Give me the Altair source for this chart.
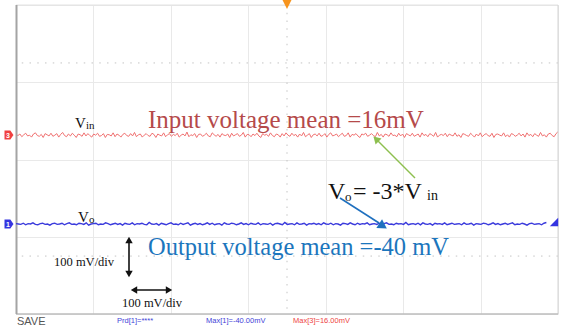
import altair as alt
import numpy as np
import pandas as pd

# Screen layout: 14 horizontal x 8 vertical divisions, 100 mV/div
h_divs = 14
v_divs = 8
mv_per_div = 100

# Channel 3 (input) and channel 1 (output): measured means and screen offsets
ch3_mean_mv = 16
ch1_mean_mv = -40
ch3_offset_mv = 47
ch1_offset_mv = -127

# Ripple on each channel about its mean (mV)
ch3_ripple_mv = [
    2, -1, 3, -4, 1, 5, -2, 0, -5, 3, 6, -1, -3, 2, -6, 4, 1, -2, 5, -3,
    0, 4, -5, 2, 7, -1, -4, 3, -2, 5, 0, -6, 3, 1, -3, 6, -2, 4, -1, -5,
    3, 0, 5, -3, -1, 4, -6, 2, 1, -2, 6, -4, 3, 0, -5, 2, 5, -1, -3, 4,
    -2, 7, -4, 1, 3, -5, 0, 4, -1, -3, 5, 2, -6, 3, 0, -2, 6, -4, 1, 4,
    -3, 2, -1, 5, -5, 0, 3, -2, 8, -4, 1, -1, 4, -6, 2, 3, -3, 0, 5, -2,
    -4, 6, 1, -3, 2, -5, 4, 0, -1, 3, -6, 5, -2, 1, 4, -3, 0, 7, -5, 2,
    1, -4, 3, -1, 5, -2, -6, 4, 0, 2, -3, 6, -1, -4, 3, 1, -5, 4, -2, 6,
    0, -3, 5, -1, 2, -5, 3, -2, 7, -4, 0, 4, -6, 1, 3, -2, 5, -3, -1, 4,
    -5, 2, 6, -2, 0, 3, -4, 1, 5, -3, -1, 6, -5, 2, 0, 4, -2, -6, 3, 1,
    5, -3, 0, 4, -1, -4, 7, -2, 2, -5, 3, 1, -3, 6, -1, 0, -4, 5, -2, 3,
    -6, 4, 1, -2, 5, -3, 0, 3, -5, 6, -1, 2, -4, 4, 1, -3, 7, -5, 0, 2,
    -1, 5, -4, 3, 0, -2, 6, -3, 1, -6, 4, 2, -1, -3, 5, 0, -5, 3, -2, 6,
    -4, 1, 4, -1, -3, 5, -6, 2, 3, 0, -2, 6, -4, 1, -5, 4, 2, -3, 0, 5,
    -2, 3, -5, 6, -1, 2, -4, 4, 0, -3, 7, -2, 1, -5, 3, 5, -1, -4, 4, 9,
]
ch1_ripple_mv = [
    1, 0, -1, 2, -2, 1, 0, 3, -1, -2, 1, 2, -1, 0, -3, 1, 2, -1, 0, 2,
    -2, 1, 3, -1, 0, -2, 2, 1, -1, 3, -3, 0, 1, 2, -2, 0, -1, 3, 1, -2,
    0, 2, -1, 1, -3, 2, 0, -1, 3, -2, 1, 0, 2, -1, -2, 4, 0, -1, 1, -3,
    2, 0, -2, 1, 3, -1, 0, -2, 2, -1, 1, 3, -3, 0, 2, -1, 1, -2, 0, 3,
    -1, 2, -2, 0, 1, -3, 3, 0, -1, 2, 1, -2, 0, 3, -1, 1, -2, 2, 0, -1,
    3, -2, 1, 0, -1, 2, -3, 1, 2, 0, -2, 4, -1, 0, 1, -2, 3, -1, 0, 2,
    -3, 1, 0, 2, -1, 1, -2, 3, 0, -1, 2, -2, 1, 0, -3, 2, 1, -1, 3, 0,
    -2, 2, -1, 1, 0, 3, -2, 0, 1, -1, 2, -3, 1, 3, -1, 0, -2, 2, 0, 1,
    -1, 4, -2, 0, 1, -1, 2, -2, 3, 0, -1, 1, -3, 2, 0, 1, -1, 3, -2, 0,
    2, -1, 0, 1, -2, 3, -1, 0, 2, -3, 1, 0, -1, 2, 1, -2, 0, 3, -1, 1,
    -2, 0, 2, -1, 1, 3, -2, 0, -1, 2, 0, -3, 1, 2, -1, 0, 1, -2, 2, 4,
]

W, H = 542, 309
half_t = h_divs / 2
half_v = v_divs / 2 * mv_per_div

ch3 = pd.DataFrame({
    "t": np.linspace(-half_t, half_t, len(ch3_ripple_mv)),
    "mv": [ch3_mean_mv + ch3_offset_mv + r for r in ch3_ripple_mv],
})
ch1 = pd.DataFrame({
    "t": np.linspace(-half_t, half_t - 0.3, len(ch1_ripple_mv)),
    "mv": [ch1_mean_mv + ch1_offset_mv + r for r in ch1_ripple_mv],
})

xs = alt.Scale(domain=[-half_t, half_t], nice=False, zero=False)
ys = alt.Scale(domain=[-half_v, half_v], nice=False, zero=False)
grid_x = alt.Axis(values=list(range(-7, 8)), grid=True, gridColor="#e9e9e9",
                  labels=False, ticks=False, domain=False, title=None)
grid_y = alt.Axis(values=list(range(-400, 401, 100)), grid=True, gridColor="#e9e9e9",
                  labels=False, ticks=False, domain=False, title=None)

one = pd.DataFrame({"k": [0]})

trace3 = alt.Chart(ch3).mark_line(color="#f07070", strokeWidth=1).encode(
    x=alt.X("t:Q", scale=xs, axis=grid_x),
    y=alt.Y("mv:Q", scale=ys, axis=grid_y),
)
trace1 = alt.Chart(ch1).mark_line(color="#3b3bdc", strokeWidth=1.4).encode(
    x=alt.X("t:Q", scale=xs), y=alt.Y("mv:Q", scale=ys),
)

dot = dict(color="#c4c4c4", strokeWidth=1, strokeDash=[1.5, 6.25])
dotted_h = alt.Chart(pd.DataFrame({"mv": [-250, 250]})).mark_rule(**dot).encode(
    y=alt.Y("mv:Q", scale=ys))
dotted_v = alt.Chart(pd.DataFrame({"t": [0]})).mark_rule(**dot).encode(
    x=alt.X("t:Q", scale=xs))


def seg(x, y, x2, y2, color, width):
    return alt.Chart(one).mark_rule(color=color, strokeWidth=width).encode(
        x=alt.value(x), y=alt.value(y), x2=alt.value(x2), y2=alt.value(y2))


def head(x, y, angle, color, size, shape="triangle-up"):
    return alt.Chart(one).mark_point(shape=shape, filled=True, opacity=1,
                                     color=color, size=size, angle=angle).encode(
        x=alt.value(x), y=alt.value(y))


def label(text, x, y, size, color, font="Liberation Serif", align="left",
          baseline="alphabetic", weight="normal"):
    return alt.Chart(one).mark_text(text=text, fontSize=size, color=color, font=font,
                                    align=align, baseline=baseline,
                                    fontWeight=weight).encode(
        x=alt.value(x), y=alt.value(y))


border = [
    seg(0, 0, W, 0, "#e2e2e2", 1),
    seg(W, 0, W, H, "#d4d4d4", 1),
    seg(0, H, W, H, "#bdbdbd", 1.5),
    seg(0.5, 0, 0.5, H, "#a4a4a4", 2),
]

red_txt = "#b54a4a"
blue_txt = "#1c76bd"
black = "#111111"

annotations = [
    # trace labels
    label("V", 59, 123, 15, black), label("in", 70, 124, 11, black),
    label("V", 62, 217, 15, black), label("o", 73, 218, 11, black),
    # measured means
    label("Input voltage mean =16mV", 132, 123, 25, red_txt),
    label("Output voltage mean =-40 mV", 132, 250, 24.5, blue_txt),
    # gain relation
    label("V", 312, 194, 24, black), label("o", 329, 196, 13, black),
    label("= -3*V", 337, 194, 24, black), label("in", 411, 195, 14, black),
    # scale labels
    label("100 mV/div", 38, 257, 12.5, black, baseline="middle"),
    label("100 mV/div", 106, 298, 12.5, black, baseline="middle"),
    # status bar
    label("SAVE", 1, 317, 11, "#555555", font="Liberation Sans", baseline="middle"),
    label("Prd[1]=****", 101, 316, 7.5, "#3f3fd8", font="Liberation Sans", baseline="middle"),
    label("Max[1]=-40.00mV", 190, 316, 7.5, "#3f3fd8", font="Liberation Sans", baseline="middle"),
    label("Max[3]=16.00mV", 277, 316, 7.5, "#ee4444", font="Liberation Sans", baseline="middle"),
]

arrows = [
    # green pointer to the input trace
    seg(399, 173, 362, 136, "#8dbf4f", 1.5), head(360, 134, 315, "#8dbf4f", 70),
    # blue pointer to the output trace
    seg(324, 193, 363, 218, "#1f70bf", 1.6), head(367, 221, 123, "#1f70bf", 110),
    # vertical scale arrow
    seg(113, 236, 113, 268, black, 1.6),
    head(113, 235, 0, black, 55), head(113, 269, 180, black, 55),
    # horizontal scale arrow
    seg(119, 285, 152, 285, black, 1.6),
    head(118, 285, 270, black, 55), head(153, 285, 90, black, 55),
]

pent = "M-1,-1L0.3,-1L1,0L0.3,1L-1,1Z"
markers = [
    head(-7, 130, 0, "#f04040", 80, shape=pent),
    label("3", -8, 130.5, 7, "white", font="Liberation Sans", align="center",
          baseline="middle", weight="bold"),
    head(-7, 219, 0, "#3434e0", 80, shape=pent),
    label("1", -8, 219.5, 7, "white", font="Liberation Sans", align="center",
          baseline="middle", weight="bold"),
    head(538, 217, 0, "#3434e0", 70, shape="M1,-1L1,1L-1,1Z"),
    head(271, -1, 0, "#f7941d", 100, shape="M-1,-1L1,-1L0,1Z"),
]

chart = alt.layer(
    trace3, dotted_h, dotted_v, *border, trace1, *arrows, *annotations, *markers,
).properties(
    width=W, height=H,
    autosize=alt.AutoSizeParams(type="none"),
    padding={"left": 16, "top": 5, "right": 3, "bottom": 21},
    background="white",
).configure_view(stroke=None)

chart.save("out.html", embed_options={"renderer": "svg", "actions": False})
